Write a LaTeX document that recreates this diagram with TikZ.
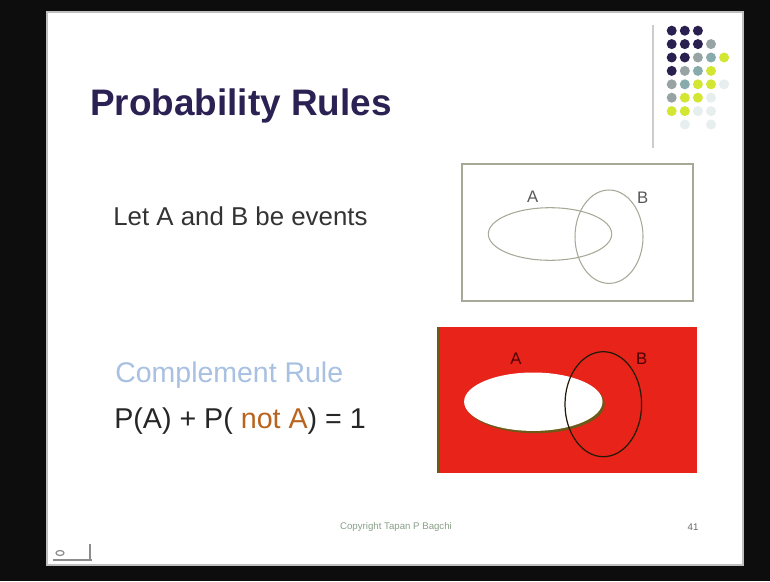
\documentclass[tikz,border=0pt]{standalone}
\usepackage{fontspec}
\setmainfont{Liberation Sans}
\definecolor{titlenavy}{HTML}{2B2152}
\definecolor{dotnavy}{HTML}{2A2050}
\definecolor{dotgray}{HTML}{98A4A4}
\definecolor{dotteal}{HTML}{88ACAC}
\definecolor{dotlime}{HTML}{D2E632}
\definecolor{dotfaint}{HTML}{E6EEEE}
\definecolor{venngray}{HTML}{A8A898}
\definecolor{vennred}{HTML}{E8231A}
\definecolor{vennshade}{HTML}{6E5A18}
\definecolor{compblue}{HTML}{A8C0E2}
\definecolor{notbrown}{HTML}{B8641E}
\definecolor{footgreen}{HTML}{88A088}
\tikzset{
  slidetext/.style={anchor=base west,inner sep=0pt},
  vennlabel/.style={inner sep=0pt,font=\fontsize{9.5}{11}\selectfont},
}
\begin{document}
\begin{tikzpicture}[x=0.02cm,y=-0.02cm]
% screen and slide
\fill[black!95] (0,0) rectangle (770,581);
\fill[white] (47,12) rectangle (743,565);
\draw[black!25,line width=0.6pt] (47,12) rectangle (743,565);

% corner decoration
\draw[black!20,line width=1pt] (653,25) -- (653,148);
\foreach \r/\c/\col in {0/0/dotnavy,0/1/dotnavy,0/2/dotnavy,
  1/0/dotnavy,1/1/dotnavy,1/2/dotnavy,1/3/dotgray,
  2/0/dotnavy,2/1/dotnavy,2/2/dotgray,2/3/dotteal,2/4/dotlime,
  3/0/dotnavy,3/1/dotgray,3/2/dotteal,3/3/dotlime,
  4/0/dotgray,4/1/dotteal,4/2/dotlime,4/3/dotlime,4/4/dotfaint,
  5/0/dotgray,5/1/dotlime,5/2/dotlime,5/3/dotfaint,
  6/0/dotlime,6/1/dotlime,6/2/dotfaint,6/3/dotfaint,
  7/1/dotfaint,7/3/dotfaint}{
  \fill[\col] (671.7+13.1*\c,30.7+13.4*\r) circle (5);
}

% title and text
\node[slidetext,text=titlenavy,font=\fontsize{21}{25}\bfseries] (title) at (90,115) {Probability Rules};
\node[slidetext,text=black!80,font=\fontsize{14.7}{18}\selectfont] (events) at (113,225) {Let A and B be events};
\node[slidetext,text=compblue,font=\fontsize{16.2}{19}\selectfont] (comp) at (115,382) {Complement Rule};
\node[slidetext,text=black!85,font=\fontsize{16.3}{19}\selectfont] (rule) at (114,428)
  {P(A) + P( \textcolor{notbrown}{not A}) = 1};

% top venn diagram
\draw[venngray,line width=0.7pt] (462,164) rectangle (693,301);
\draw[venngray,line width=0.6pt] (550,234) ellipse (61.7 and 26.3);
\draw[venngray,line width=0.6pt] (609,236.7) ellipse (34 and 46.7);
\node[vennlabel,text=black!65] (topA) at (532.7,196.7) {A};
\node[vennlabel,text=black!65] (topB) at (642.7,197.7) {B};

% bottom venn diagram
\fill[vennshade] (437,327) rectangle (697,473);
\fill[vennred] (439.5,327) rectangle (697,473);
\fill[vennshade] (535.5,404) ellipse (69.2 and 29.2);
\fill[white] (533.3,401.7) ellipse (69.2 and 29.2);
\draw[black!70!vennshade,line width=0.7pt] (603.3,404.2) ellipse (38.3 and 52.5);
\node[vennlabel,text=black!70!red] (botA) at (516,358.3) {A};
\node[vennlabel,text=black!70!red] (botB) at (641.7,358.3) {B};

% footer
\node[text=footgreen,inner sep=0pt,font=\fontsize{5.5}{6}\selectfont] (copy) at (396,526.7) {Copyright Tapan P Bagchi};
\node[text=black!60,inner sep=0pt,font=\fontsize{5.5}{6}\selectfont] (page) at (693,526.7) {41};

% navigation icon
\draw[black!45,line width=0.8pt] (53,560) -- (92,560) (90,560) -- (90,544);
\draw[black!45,line width=0.7pt] (60,553) ellipse (4 and 2.5);
\end{tikzpicture}
\end{document}
